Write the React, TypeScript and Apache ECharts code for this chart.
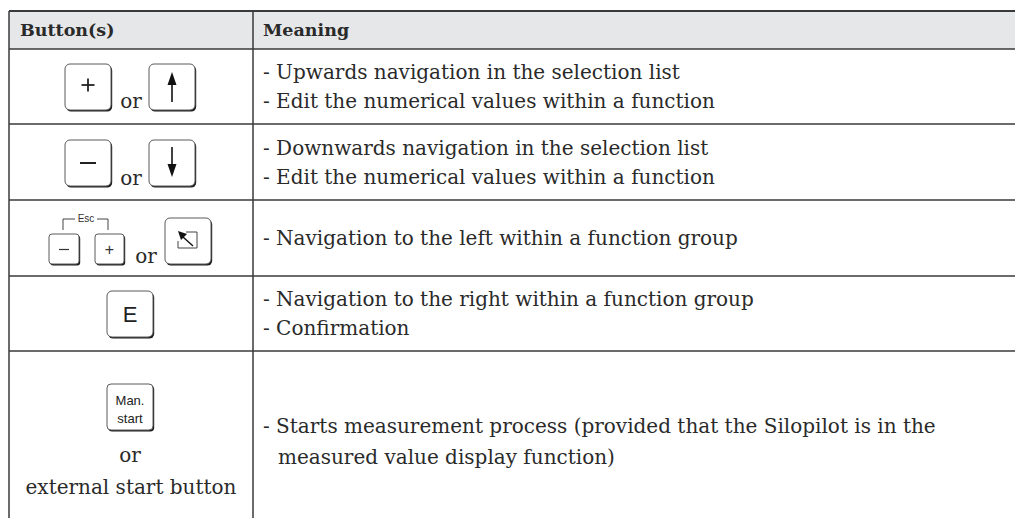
import React, { useEffect, useRef } from "react";
import * as echarts from "echarts";

const headers = ["Button(s)", "Meaning"];
const meaningRow1 = ["- Upwards navigation in the selection list", "- Edit the numerical values within a function"];
const meaningRow2 = ["- Downwards navigation in the selection list", "- Edit the numerical values within a function"];
const meaningRow3 = ["- Navigation to the left within a function group"];
const meaningRow4 = ["- Navigation to the right within a function group", "- Confirmation"];
const meaningRow5 = ["- Starts measurement process (provided that the Silopilot is in the", "measured value display function)"];
const orLabel = "or";
const escLabel = "Esc";
const eLabel = "E";
const plusLabel = "+";
const manStartLabel = ["Man.", "start"];
const externalLabel = "external start button";

const SERIF = "'DejaVu Serif', serif";
const SANS = "'Liberation Sans', Arial, sans-serif";
const INK = "#2a2a2a";
const LINE = "#3a3a3a";

function key(x: number, y: number, w: number, h: number, r = 5): any[] {
  return [
    { type: "rect", shape: { x: x + 1.2, y: y + 1.6, width: w, height: h, r }, style: { fill: "#1c1c1c" } },
    { type: "rect", shape: { x, y, width: w, height: h, r }, style: { fill: "#fff", stroke: "#5a5a5a", lineWidth: 1 } },
  ];
}

function txt(x: number, y: number, text: string, size: number, opts: any = {}): any {
  return {
    type: "text",
    x,
    y,
    style: {
      text,
      fontFamily: opts.family || SERIF,
      fontSize: size,
      fontWeight: opts.weight || "normal",
      fill: opts.fill || INK,
      align: opts.align || "left",
      verticalAlign: opts.valign || "middle",
    },
  };
}

function line(x1: number, y1: number, x2: number, y2: number, w = 1.5, color = LINE): any {
  return { type: "line", shape: { x1, y1, x2, y2 }, style: { stroke: color, lineWidth: w } };
}

export default function App() {
  const ref = useRef<HTMLDivElement>(null);
  useEffect(() => {
    const chart = echarts.init(ref.current!, null, { renderer: "svg" });
    const L = 9, C = 253, R = 1015;
    const rows = [11, 49, 124, 200, 276, 351, 518];
    const tx = 263;
    const els: any[] = [];
    // header background
    els.push({ type: "rect", shape: { x: L, y: rows[0], width: R - L, height: rows[1] - rows[0] }, style: { fill: "#e6e7e9" } });
    // horizontal rules
    els.push(line(L, rows[0], R, rows[0], 2));
    for (let i = 1; i <= 5; i++) els.push(line(L, rows[i], R, rows[i], 1.5));
    // vertical rules
    els.push(line(L, rows[0], L, 518, 1.5));
    els.push(line(C, rows[0], C, 518, 1.5));
    // header text
    els.push(txt(20, 30, headers[0], 17.5, { weight: "bold" }));
    els.push(txt(tx, 30, headers[1], 17.5, { weight: "bold" }));

    // meanings
    const lineGap = 29;
    const rowsText = [meaningRow1, meaningRow2, meaningRow3, meaningRow4];
    rowsText.forEach((lines, i) => {
      const cy = (rows[i + 1] + rows[i + 2]) / 2;
      const start = cy - ((lines.length - 1) * lineGap) / 2;
      lines.forEach((s, j) => els.push(txt(tx, start + j * lineGap, s, 20)));
    });
    els.push(txt(tx, 426, meaningRow5[0], 20));
    els.push(txt(278, 457, meaningRow5[1], 20));

    // Row 1: + or up
    els.push(...key(65, 64, 46, 46));
    els.push(line(81.5, 85, 94.5, 85, 1.8, "#222"));
    els.push(line(88, 78.5, 88, 91.5, 1.8, "#222"));
    els.push(txt(131, 101, orLabel, 20, { align: "center" }));
    els.push(...key(149, 64, 46, 46));
    els.push({ type: "polygon", shape: { points: [[172, 72], [167.5, 85], [176.5, 85]] }, style: { fill: "#111" } });
    els.push(line(172, 83, 172, 102, 1.6, "#111"));

    // Row 2: - or down
    els.push(...key(65, 140, 46, 46));
    els.push(line(80, 163, 96, 163, 2, "#222"));
    els.push(txt(131, 178, orLabel, 20, { align: "center" }));
    els.push(...key(149, 140, 46, 46));
    els.push(line(172, 147, 172, 166, 1.6, "#111"));
    els.push({ type: "polygon", shape: { points: [[172, 177], [167.5, 164], [176.5, 164]] }, style: { fill: "#111" } });

    // Row 3: Esc (- +) or escape icon
    els.push(line(63, 219, 75, 219, 1, "#444"));
    els.push(line(97, 219, 108, 219, 1, "#444"));
    els.push(line(63, 219, 63, 230, 1, "#444"));
    els.push(line(108, 219, 108, 230, 1, "#444"));
    els.push(txt(86, 218, escLabel, 10, { family: SANS, align: "center", fill: "#333" }));
    els.push(...key(49, 234, 30, 30, 3));
    els.push(line(59, 249.5, 69, 249.5, 1.2, "#333"));
    els.push(...key(95, 234, 29, 30, 3));
    els.push(txt(109.5, 249.5, plusLabel, 16, { family: SANS, align: "center", fill: "#333" }));
    els.push(txt(146, 256, orLabel, 20, { align: "center" }));
    els.push(...key(165, 218, 46, 46));
    els.push({ type: "polyline", shape: { points: [[186, 232], [197, 232], [197, 248], [178, 248], [178, 241]] }, style: { stroke: "#444", lineWidth: 1, fill: null } });
    els.push(line(183, 237, 193, 246, 1.4, "#111"));
    els.push({ type: "polygon", shape: { points: [[178, 231], [187, 234], [181, 240]] }, style: { fill: "#111" } });

    // Row 4: E
    els.push(...key(107, 291, 46, 46));
    els.push(txt(130, 314, eLabel, 22, { family: SANS, align: "center", fill: "#222" }));

    // Row 5: Man. start
    els.push(...key(107, 384, 46, 46, 4));
    els.push(txt(130, 400, manStartLabel[0], 13, { family: SANS, align: "center", fill: "#222" }));
    els.push(txt(130, 418, manStartLabel[1], 13, { family: SANS, align: "center", fill: "#222" }));
    els.push(txt(130, 455, orLabel, 20, { align: "center" }));
    els.push(txt(131, 487, externalLabel, 20, { align: "center" }));

    chart.setOption({ animation: false, graphic: { elements: els } });
    return () => chart.dispose();
  }, []);
  return <div ref={ref} style={{ position: "fixed", left: 0, top: 0, width: 1015, height: 518, background: "#fff" }} />;
}
